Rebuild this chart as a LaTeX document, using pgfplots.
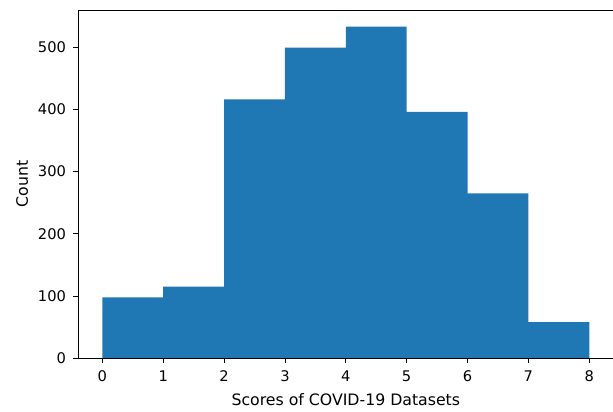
\documentclass[border=0pt]{standalone}
\usepackage{fontspec}
\setmainfont{DejaVu Sans}
\usepackage{pgfplots}
\pgfplotsset{compat=1.18}
\definecolor{mplblue}{HTML}{1F77B4}

\begin{document}
\begin{tikzpicture}
% fixed page: 613x411 px at 0.75pt per px
\useasboundingbox (-58.5pt,-39.75pt) rectangle (401.25pt,268.7pt);
\begin{axis}[
    at={(0,0)}, anchor=south west,
    scale only axis,
    width=401.7pt, height=261.2pt,
    xmin=-0.4, xmax=8.4,
    ymin=0, ymax=559.65,
    xtick={0,...,8},
    ytick={0,100,...,500},
    tick align=outside,
    tick pos=left,
    major tick length=3.5pt,
    axis line style={line width=0.6pt},
    every tick/.style={black, line width=0.6pt},
    tick label style={font=\fontsize{11}{13}\selectfont},
    xticklabel style={yshift=-2pt},
    yticklabel style={xshift=-2pt},
    /pgf/number format/assume math mode=true,
    xlabel={Scores of COVID-19 Datasets},
    ylabel={Count},
    label style={font=\fontsize{11.8}{14}\selectfont},
    xlabel style={at={(axis description cs:0.5,0)}, anchor=base, yshift=-35.2pt},
    ylabel style={at={(axis description cs:0,0.5)}, anchor=base, yshift=37.5pt},
    axis on top,
]
\addplot[ybar interval, fill=mplblue, draw=none] coordinates {
    (0,98) (1,115) (2,416) (3,499) (4,533) (5,396) (6,265) (7,58) (8,58)
};
\end{axis}
\end{tikzpicture}
\end{document}
